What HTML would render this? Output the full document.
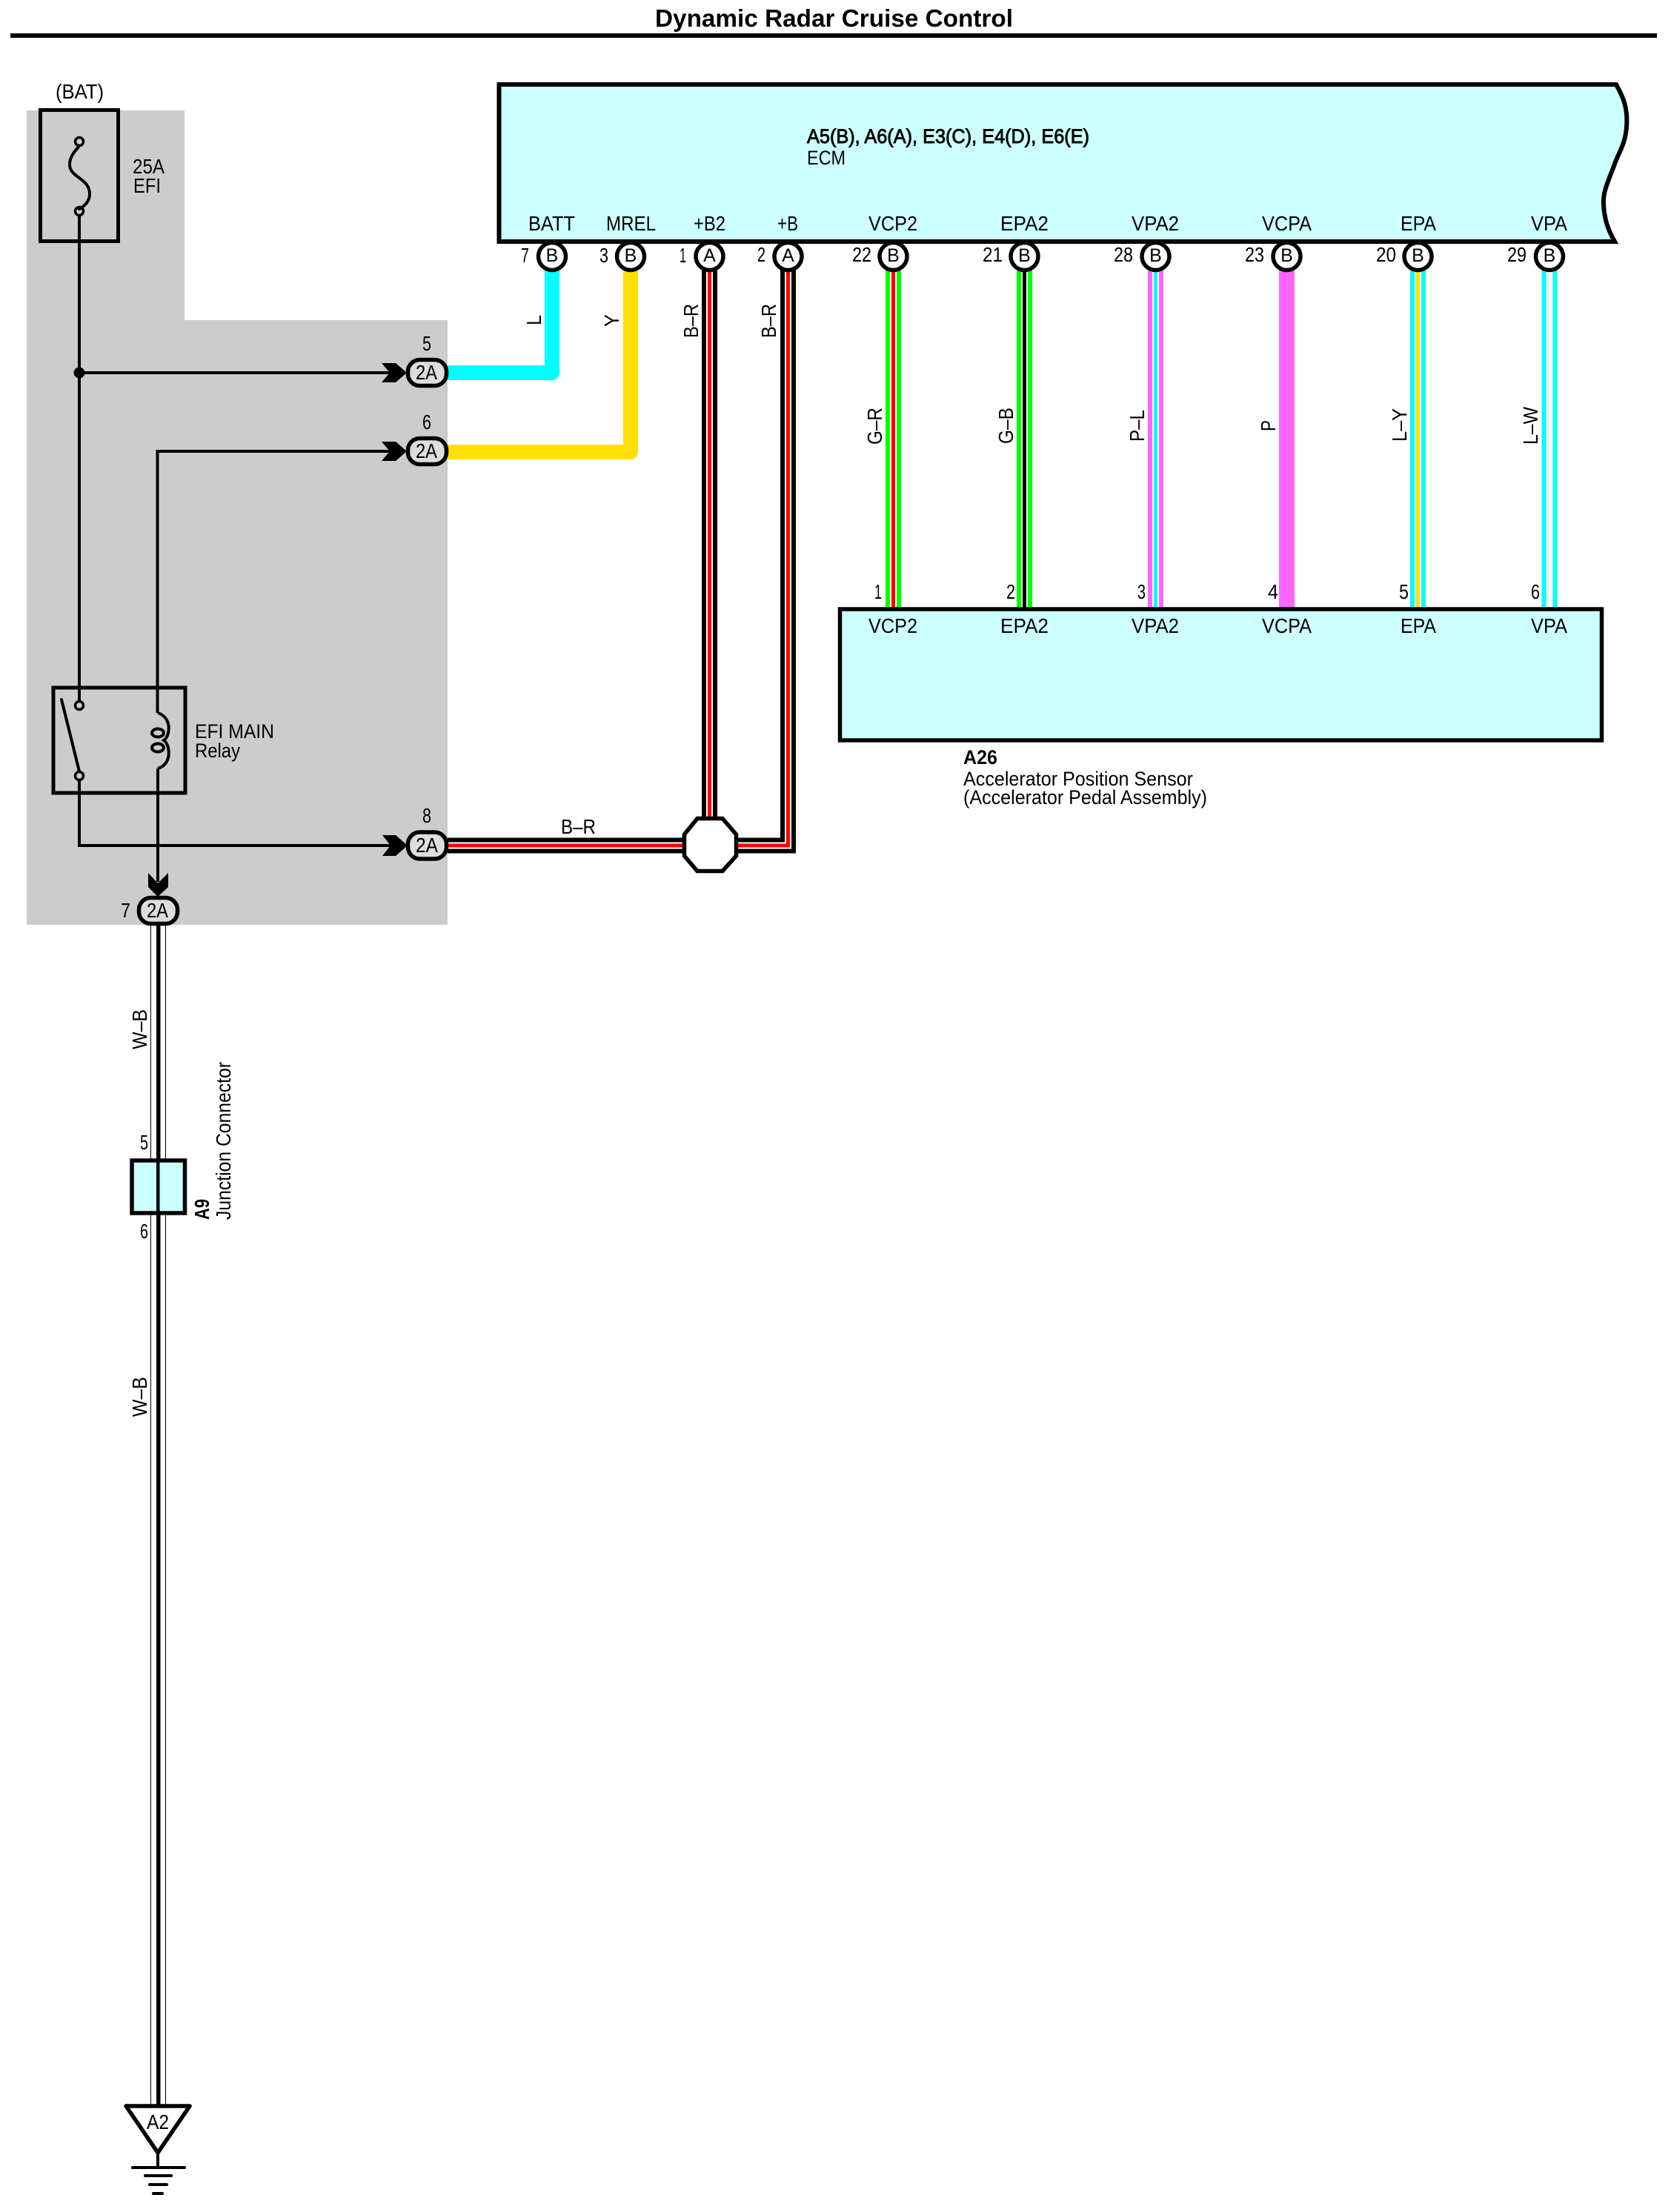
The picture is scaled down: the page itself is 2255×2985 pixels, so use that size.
<!DOCTYPE html>
<html><head><meta charset="utf-8"><title>Dynamic Radar Cruise Control</title>
<style>
html,body{margin:0;padding:0;background:#fff}
svg{display:block}
text{font-family:"Liberation Sans",sans-serif;font-size:28px;fill:#000}
.b{font-weight:bold}
.sb{stroke:#000;stroke-width:.9px}
.l{fill:none;stroke:#000;stroke-width:4}
.conn{fill:#dddddd;stroke:#000;stroke-width:5.5}
.pin{fill:#fff;stroke:#000;stroke-width:5.5}
.term{fill:none;stroke:#000;stroke-width:3.5}
</style></head><body>
<svg xmlns="http://www.w3.org/2000/svg" width="2255" height="2985" viewBox="0 0 2255 2985">
<rect width="2255" height="2985" fill="#fff"/>
<!-- title -->
<text class="b" x="884" y="36" style="font-size:33px" textLength="483" lengthAdjust="spacingAndGlyphs">Dynamic Radar Cruise Control</text>
<rect x="14" y="45" width="2222" height="6" fill="#000"/>
<!-- grey region -->
<polygon points="36,149 249,149 249,432 604,432 604,1248 36,1248" fill="#cccccc"/>

<!-- coloured thick wires -->
<path d="M604 503H745V360" fill="none" stroke="#00ffff" stroke-width="20" stroke-linejoin="round"/>
<path d="M604 610H851V360" fill="none" stroke="#ffe000" stroke-width="20" stroke-linejoin="round"/>

<!-- B-R wires -->
<g fill="none">
<path d="M957.5 360V1141M604 1141H958" stroke="#000" stroke-width="21"/>
<path d="M957.5 360V1141M604 1141H958" stroke="#fff" stroke-width="9"/>
<path d="M957.5 360V1141M604 1141H958" stroke="#f00" stroke-width="5"/>
<path d="M1063.5 360V1141H980" stroke="#000" stroke-width="21"/>
<path d="M1063.5 360V1141H980" stroke="#fff" stroke-width="9"/>
<path d="M1063.5 360V1141H980" stroke="#f00" stroke-width="5"/>
</g>
<polygon points="941,1104.5 975,1104.5 993.5,1126 993.5,1155 975,1175.5 941,1175.5 923.5,1155 923.5,1126" fill="#fff" stroke="#000" stroke-width="5.5"/>

<!-- signal wires -->
<g>
<rect x="1195" y="360" width="21" height="462" fill="#00ff00"/><rect x="1201" y="360" width="9" height="462" fill="#fff"/><rect x="1203" y="360" width="5" height="462" fill="#f00"/>
<rect x="1372" y="360" width="21" height="462" fill="#00ff00"/><rect x="1378" y="360" width="9" height="462" fill="#fff"/><rect x="1380" y="360" width="5" height="462" fill="#000"/>
<rect x="1549" y="360" width="21" height="462" fill="#ff66ff"/><rect x="1555" y="360" width="9" height="462" fill="#fff"/><rect x="1557" y="360" width="5" height="462" fill="#00ffff"/>
<rect x="1726" y="360" width="21" height="462" fill="#ff66ff"/>
<rect x="1903" y="360" width="21" height="462" fill="#00ffff"/><rect x="1909" y="360" width="9" height="462" fill="#fff"/><rect x="1911" y="360" width="5" height="462" fill="#ffe000"/>
<rect x="2080.5" y="360" width="21" height="462" fill="#00ffff"/><rect x="2086.5" y="360" width="9" height="462" fill="#fff"/>
</g>

<!-- W-B wire -->
<rect x="203" y="1240" width="21" height="1602" fill="#000"/>
<rect x="204" y="1240" width="19" height="1602" fill="#fff"/>
<rect x="211" y="1240" width="5.5" height="1602" fill="#000"/>

<!-- ECM -->
<path d="M673.5 114H2181C2191 132 2197 146 2195 172C2193 196 2184 206 2178 224C2167 252 2163 262 2164 276C2165 296 2170 310 2179 326H673.5Z" fill="#ccffff" stroke="#000" stroke-width="6"/>
<text class="sb" x="1089" y="193" style="font-size:27px" textLength="381" lengthAdjust="spacingAndGlyphs">A5(B), A6(A), E3(C), E4(D), E6(E)</text>
<text x="1089" y="222" style="font-size:27px" textLength="52" lengthAdjust="spacingAndGlyphs">ECM</text>
<g>
<text x="713" y="311" textLength="63" lengthAdjust="spacingAndGlyphs">BATT</text>
<text x="818" y="311" textLength="67" lengthAdjust="spacingAndGlyphs">MREL</text>
<text x="936" y="311" textLength="43" lengthAdjust="spacingAndGlyphs">+B2</text>
<text x="1049" y="311" textLength="28" lengthAdjust="spacingAndGlyphs">+B</text>
<text x="1172" y="311" textLength="66" lengthAdjust="spacingAndGlyphs">VCP2</text>
<text x="1350" y="311" textLength="65" lengthAdjust="spacingAndGlyphs">EPA2</text>
<text x="1527" y="311" textLength="64" lengthAdjust="spacingAndGlyphs">VPA2</text>
<text x="1703" y="311" textLength="67" lengthAdjust="spacingAndGlyphs">VCPA</text>
<text x="1890" y="311" textLength="48" lengthAdjust="spacingAndGlyphs">EPA</text>
<text x="2066" y="311" textLength="49" lengthAdjust="spacingAndGlyphs">VPA</text>
</g>
<!-- ECM pins -->
<g>
<circle class="pin" cx="745" cy="346" r="18.5"/><circle class="pin" cx="851" cy="346" r="18.5"/><circle class="pin" cx="957.5" cy="346" r="18.5"/><circle class="pin" cx="1063.5" cy="346" r="18.5"/><circle class="pin" cx="1205.5" cy="346" r="18.5"/><circle class="pin" cx="1382.5" cy="346" r="18.5"/><circle class="pin" cx="1559.5" cy="346" r="18.5"/><circle class="pin" cx="1736.5" cy="346" r="18.5"/><circle class="pin" cx="1913.5" cy="346" r="18.5"/><circle class="pin" cx="2091" cy="346" r="18.5"/>
</g>
<g style="text-anchor:middle" text-anchor="middle">
<text x="745" y="353" style="font-size:25px">B</text><text x="851" y="353" style="font-size:25px">B</text><text x="957.5" y="353" style="font-size:25px">A</text><text x="1063.5" y="353" style="font-size:25px">A</text><text x="1205.5" y="353" style="font-size:25px">B</text><text x="1382.5" y="353" style="font-size:25px">B</text><text x="1559.5" y="353" style="font-size:25px">B</text><text x="1736.5" y="353" style="font-size:25px">B</text><text x="1913.5" y="353" style="font-size:25px">B</text><text x="2091" y="353" style="font-size:25px">B</text>
</g>
<g>
<text x="703" y="354" textLength="11" lengthAdjust="spacingAndGlyphs">7</text>
<text x="809" y="354" textLength="12" lengthAdjust="spacingAndGlyphs">3</text>
<text x="917" y="354" textLength="9" lengthAdjust="spacingAndGlyphs">1</text>
<text x="1022" y="353" textLength="11" lengthAdjust="spacingAndGlyphs">2</text>
<text x="1150" y="353" textLength="26" lengthAdjust="spacingAndGlyphs">22</text>
<text x="1326" y="353" textLength="27" lengthAdjust="spacingAndGlyphs">21</text>
<text x="1503" y="353" textLength="26" lengthAdjust="spacingAndGlyphs">28</text>
<text x="1680" y="353" textLength="26" lengthAdjust="spacingAndGlyphs">23</text>
<text x="1857" y="353" textLength="27" lengthAdjust="spacingAndGlyphs">20</text>
<text x="2034" y="353" textLength="26" lengthAdjust="spacingAndGlyphs">29</text>
</g>

<!-- rotated wire labels -->
<g>
<text transform="translate(730,439) rotate(-90)" textLength="14" lengthAdjust="spacingAndGlyphs">L</text>
<text transform="translate(835,441) rotate(-90)" textLength="17" lengthAdjust="spacingAndGlyphs">Y</text>
<text transform="translate(942,456) rotate(-90)" textLength="46" lengthAdjust="spacingAndGlyphs">B–R</text>
<text transform="translate(1047,456) rotate(-90)" textLength="46" lengthAdjust="spacingAndGlyphs">B–R</text>
<text transform="translate(1190,600) rotate(-90)" textLength="50" lengthAdjust="spacingAndGlyphs">G–R</text>
<text transform="translate(1367,599) rotate(-90)" textLength="49" lengthAdjust="spacingAndGlyphs">G–B</text>
<text transform="translate(1544,596) rotate(-90)" textLength="43" lengthAdjust="spacingAndGlyphs">P–L</text>
<text transform="translate(1721,582) rotate(-90)" textLength="15" lengthAdjust="spacingAndGlyphs">P</text>
<text transform="translate(1898,596) rotate(-90)" textLength="45" lengthAdjust="spacingAndGlyphs">L–Y</text>
<text transform="translate(2075,600) rotate(-90)" textLength="51" lengthAdjust="spacingAndGlyphs">L–W</text>
<text transform="translate(198,1416) rotate(-90)" textLength="54" lengthAdjust="spacingAndGlyphs">W–B</text>
<text transform="translate(198,1912) rotate(-90)" textLength="54" lengthAdjust="spacingAndGlyphs">W–B</text>
<text class="b" transform="translate(282,1646) rotate(-90)" textLength="28" lengthAdjust="spacingAndGlyphs">A9</text>
<text transform="translate(311,1646) rotate(-90)" textLength="213" lengthAdjust="spacingAndGlyphs">Junction Connector</text>
</g>
<text x="757" y="1125" textLength="47" lengthAdjust="spacingAndGlyphs">B–R</text>

<!-- sensor -->
<rect x="1133.5" y="822" width="1028" height="177" fill="#ccffff" stroke="#000" stroke-width="5.5"/>
<g>
<text x="1172" y="854" textLength="66" lengthAdjust="spacingAndGlyphs">VCP2</text>
<text x="1350" y="854" textLength="65" lengthAdjust="spacingAndGlyphs">EPA2</text>
<text x="1527" y="854" textLength="64" lengthAdjust="spacingAndGlyphs">VPA2</text>
<text x="1703" y="854" textLength="67" lengthAdjust="spacingAndGlyphs">VCPA</text>
<text x="1890" y="854" textLength="48" lengthAdjust="spacingAndGlyphs">EPA</text>
<text x="2066" y="854" textLength="49" lengthAdjust="spacingAndGlyphs">VPA</text>
<text x="1180" y="808" textLength="10" lengthAdjust="spacingAndGlyphs">1</text>
<text x="1358" y="808" textLength="12" lengthAdjust="spacingAndGlyphs">2</text>
<text x="1535" y="808" textLength="11" lengthAdjust="spacingAndGlyphs">3</text>
<text x="1711" y="808" textLength="14" lengthAdjust="spacingAndGlyphs">4</text>
<text x="1888" y="808" textLength="13" lengthAdjust="spacingAndGlyphs">5</text>
<text x="2066" y="808" textLength="12" lengthAdjust="spacingAndGlyphs">6</text>
<text class="b" x="1300" y="1031" style="font-size:27px" textLength="46" lengthAdjust="spacingAndGlyphs">A26</text>
<text x="1300" y="1060" style="font-size:27px" textLength="310" lengthAdjust="spacingAndGlyphs">Accelerator Position Sensor</text>
<text x="1300" y="1085" style="font-size:27px" textLength="329" lengthAdjust="spacingAndGlyphs">(Accelerator Pedal Assembly)</text>
</g>

<!-- fuse -->
<rect x="54.5" y="148.5" width="105" height="177" fill="none" stroke="#000" stroke-width="5"/>
<path class="l" d="M107 197C100 205 94 212 94 222C94 240 121 240 121 262C121 272 114 278 107 282" stroke-linecap="round"/>
<circle class="term" cx="107" cy="191" r="5.5"/>
<circle class="term" cx="107" cy="285" r="5.5"/>
<text x="75" y="133" textLength="65" lengthAdjust="spacingAndGlyphs">(BAT)</text>
<text x="179" y="234" textLength="43" lengthAdjust="spacingAndGlyphs">25A</text>
<text x="180" y="260" textLength="37" lengthAdjust="spacingAndGlyphs">EFI</text>

<!-- black wires -->
<path class="l" d="M107 290V947"/>
<path class="l" d="M107 503H530"/>
<circle cx="107" cy="503" r="7.5"/>
<path class="l" d="M530 609H212.5V962"/>
<path class="l" d="M107 1052V1141H530"/>
<path class="l" d="M213 1037V1190"/>

<!-- relay -->
<rect x="72" y="928" width="178" height="142" fill="none" stroke="#000" stroke-width="5"/>
<circle class="term" cx="107" cy="952" r="5.5"/>
<circle class="term" cx="107" cy="1047" r="5.5"/>
<path class="l" d="M83 944L107 1041" stroke-linecap="round"/>
<path class="l" d="M213 962C223 965 230 975 227 989C226 994 224 997 221 999C224 1001 226 1005 227 1009C230 1025 223 1034 213 1037"/>
<ellipse cx="213" cy="989" rx="8" ry="5.5" class="l"/>
<ellipse cx="213" cy="1009" rx="8" ry="5.5" class="l"/>
<text x="263" y="996" style="font-size:27px" textLength="107" lengthAdjust="spacingAndGlyphs">EFI MAIN</text>
<text x="263" y="1022" style="font-size:27px" textLength="61" lengthAdjust="spacingAndGlyphs">Relay</text>

<!-- arrows -->
<polygon points="515,490 534,490 549,503 534,516 515,516 526,503"/>
<polygon points="515,596 534,596 549,609 534,622 515,622 526,609"/>
<polygon points="516,1127 534,1127 550,1141 534,1155 516,1155 527,1141"/>
<polygon points="200,1178 213,1192 227,1178 227,1197 213,1210 200,1197"/>

<!-- inline connectors -->
<rect class="conn" x="550.5" y="485.5" width="52" height="35" rx="16"/>
<rect class="conn" x="550.5" y="591.5" width="52" height="35" rx="16"/>
<rect class="conn" x="550.5" y="1123" width="52" height="36" rx="16"/>
<rect class="conn" x="187.5" y="1211.5" width="52" height="35" rx="16"/>
<g>
<text x="561" y="512" textLength="29" lengthAdjust="spacingAndGlyphs">2A</text>
<text x="561" y="618" textLength="29" lengthAdjust="spacingAndGlyphs">2A</text>
<text x="561" y="1150" textLength="30" lengthAdjust="spacingAndGlyphs">2A</text>
<text x="198" y="1238" textLength="29" lengthAdjust="spacingAndGlyphs">2A</text>
<text x="570" y="473" textLength="12" lengthAdjust="spacingAndGlyphs">5</text>
<text x="570" y="579" textLength="12" lengthAdjust="spacingAndGlyphs">6</text>
<text x="570" y="1110" textLength="12" lengthAdjust="spacingAndGlyphs">8</text>
<text x="163" y="1238" textLength="13" lengthAdjust="spacingAndGlyphs">7</text>
</g>

<!-- junction A9 -->
<rect x="178" y="1566" width="71.5" height="71" fill="#ccffff" stroke="#000" stroke-width="5.5"/>
<rect x="211" y="1566" width="4.5" height="71" fill="#000"/>
<text x="189" y="1551" textLength="11" lengthAdjust="spacingAndGlyphs">5</text>
<text x="189" y="1671" textLength="11" lengthAdjust="spacingAndGlyphs">6</text>

<!-- ground -->
<polygon points="170,2842 256,2842 213,2905" fill="#fff" stroke="#000" stroke-width="5.5" stroke-linejoin="round"/>
<text x="198" y="2873" textLength="30" lengthAdjust="spacingAndGlyphs">A2</text>
<path class="l" d="M213 2905V2925"/>
<path class="l" stroke-linecap="round" d="M179 2925H249"/>
<path class="l" stroke-linecap="round" d="M196 2936H231"/>
<path class="l" stroke-linecap="round" d="M202 2948H225"/>
<path class="l" stroke-linecap="round" d="M207 2960H219"/>
</svg>
</body></html>
